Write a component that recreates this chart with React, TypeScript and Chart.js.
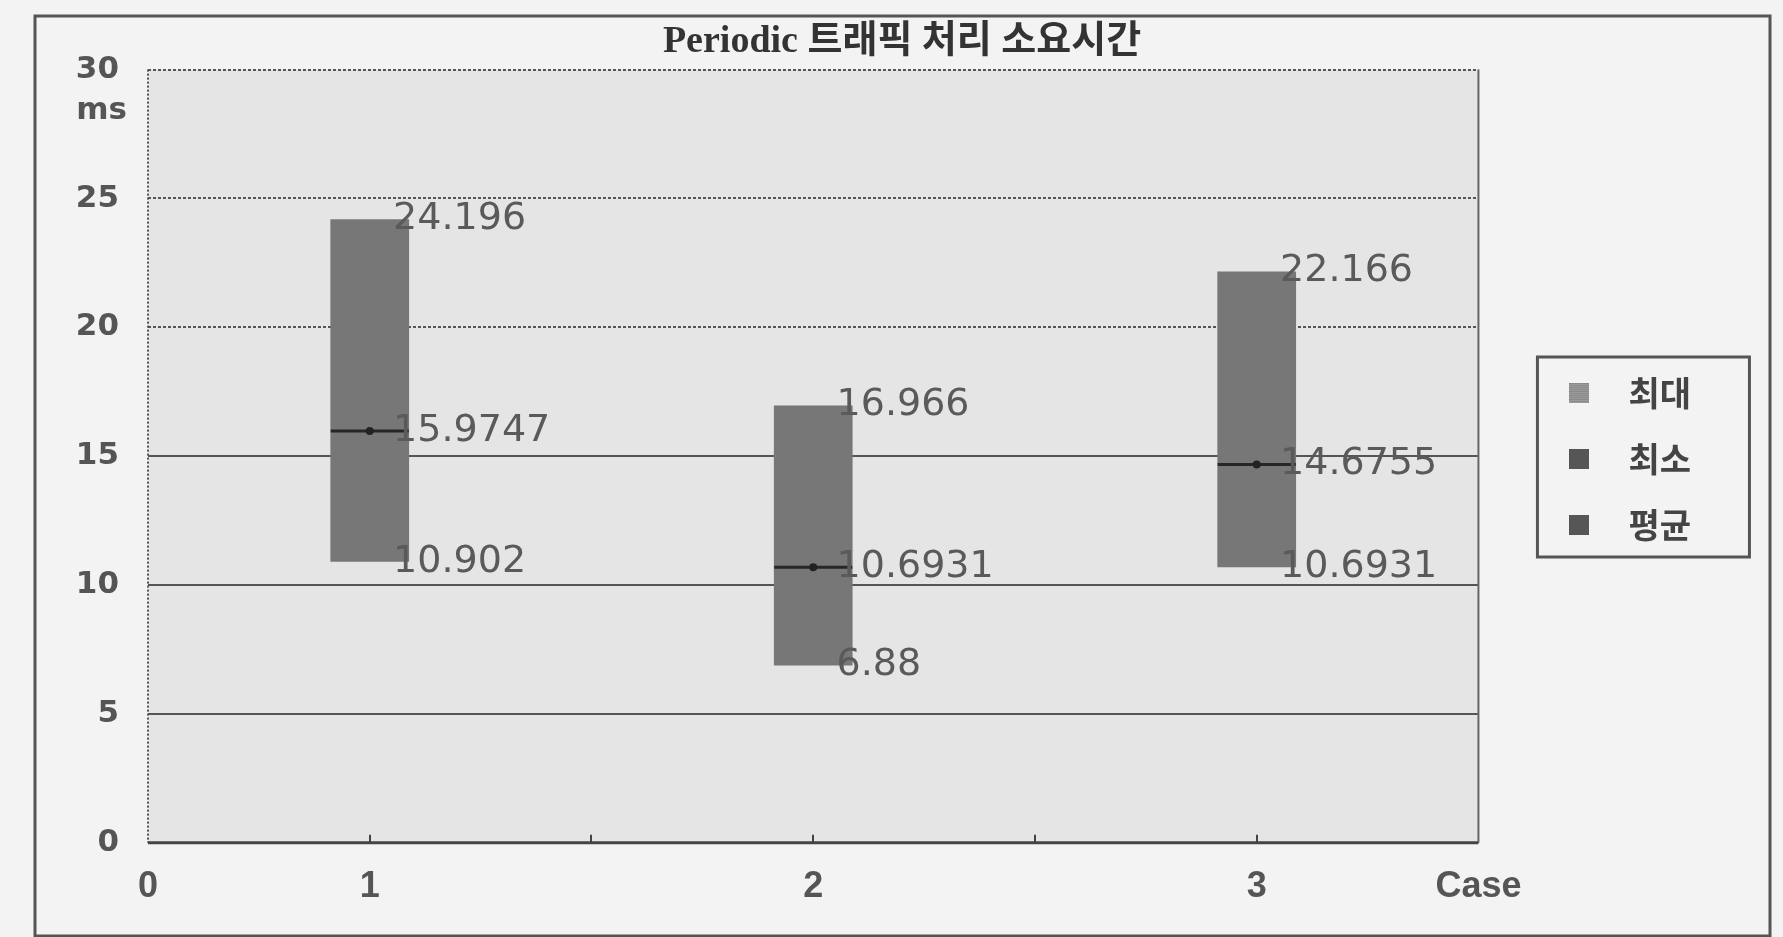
import React, { useEffect, useRef } from 'react';
import { Chart, registerables } from 'chart.js';

Chart.register(...registerables);

// ---- data ----
const CHART_TITLE = 'Periodic 트래픽 처리 소요시간';
const CASES = [1, 2, 3];
const MAX_MS = [24.196, 16.966, 22.166];
const MIN_MS = [10.902, 6.88, 10.6931];
const AVG_MS = [15.9747, 10.6931, 14.6755];
const LEGEND_LABELS = ['최대', '최소', '평균'];
const X_TICK_LABELS = ['0', '1', '', '2', '', '3', 'Case'];
const Y_UNIT = 'ms';
const Y_RANGE = [0, 30];
const Y_STEP = 5;
const X_RANGE = [0.5, 3.5];
const X_STEP = 0.5;

const W = 1783;
const H = 937;
const LEGEND_FONT = 34;

function swatch(color: string, dots?: string) {
  const c = document.createElement('canvas');
  c.width = 20;
  c.height = 20;
  const g = c.getContext('2d')!;
  g.fillStyle = color;
  g.fillRect(0, 0, 20, 20);
  if (dots) {
    g.fillStyle = dots;
    for (let y = 0; y < 20; y += 2) for (let x = (y / 2) % 2; x < 20; x += 2) g.fillRect(x, y, 1, 1);
  }
  return c;
}

const decor = {
  id: 'decor',
  beforeDraw(chart: any) {
    const { ctx, chartArea: a, width, height } = chart;
    ctx.save();
    ctx.fillStyle = '#f3f3f3';
    ctx.fillRect(0, 0, width, height);
    ctx.fillStyle = '#e5e5e5';
    ctx.fillRect(a.left, a.top, a.right - a.left, a.bottom - a.top);
    ctx.restore();
  },
  beforeDatasetsDraw(chart: any) {
    const { ctx, chartArea: a, scales } = chart;
    const y = scales.y;
    const x = scales.x;
    const line = (x1: number, y1: number, x2: number, y2: number) => {
      ctx.beginPath();
      ctx.moveTo(x1, y1);
      ctx.lineTo(x2, y2);
      ctx.stroke();
    };
    ctx.save();
    ctx.strokeStyle = '#555';
    ctx.lineWidth = 2;
    y.ticks.forEach((t: any) => {
      if (t.value === Y_RANGE[0]) return;
      const py = Math.round(y.getPixelForValue(t.value));
      ctx.setLineDash(t.value >= 20 ? [3, 2] : []);
      line(a.left, py, a.right, py);
    });
    ctx.setLineDash([2, 2]);
    line(a.left, a.top, a.left, a.bottom);
    ctx.setLineDash([]);
    ctx.strokeStyle = '#666';
    line(a.right, a.top, a.right, a.bottom);
    ctx.strokeStyle = '#444';
    ctx.lineWidth = 3;
    line(a.left, a.bottom, a.right, a.bottom);
    ctx.lineWidth = 2;
    x.ticks.forEach((t: any) => {
      if (t.value <= X_RANGE[0] || t.value >= X_RANGE[1]) return;
      const px = Math.round(x.getPixelForValue(t.value));
      line(px, a.bottom, px, a.bottom - 8);
    });
    ctx.restore();
  },
  afterDatasetsDraw(chart: any) {
    const { ctx, scales } = chart;
    const bars = chart.getDatasetMeta(0).data;
    const series = [MAX_MS, MIN_MS, AVG_MS];
    ctx.save();
    ctx.fillStyle = '#5a5a5a';
    ctx.font = '38px "DejaVu Sans"';
    ctx.textAlign = 'left';
    ctx.textBaseline = 'middle';
    series.forEach((arr) => {
      arr.forEach((v, i) => {
        const b = bars[i];
        if (!b) return;
        const right = b.x + b.width / 2;
        ctx.fillText(String(v), right - 16, scales.y.getPixelForValue(v));
      });
    });
    ctx.restore();
  },
  afterDraw(chart: any) {
    const { ctx, scales, legend } = chart;
    ctx.save();
    // unit label under the top y tick
    const y = scales.y;
    ctx.fillStyle = '#555';
    ctx.font = 'bold 31px "DejaVu Sans"';
    ctx.textAlign = 'right';
    ctx.textBaseline = 'middle';
    ctx.fillText(Y_UNIT, y.right - 29 + 8, y.getPixelForValue(Y_RANGE[1]) + 41);
    // legend frame
    const hb = legend && legend.legendHitBoxes;
    if (hb && hb.length) {
      const first = hb[0];
      const last = hb[hb.length - 1];
      const left = first.left - 10;
      const top = first.top + LEGEND_FONT / 2 - 36;
      const bottom = last.top + LEGEND_FONT / 2 + 32;
      ctx.strokeStyle = '#555';
      ctx.lineWidth = 3;
      ctx.strokeRect(left, top, 212, bottom - top);
    }
    // outer frame
    ctx.strokeStyle = '#555';
    ctx.lineWidth = 3;
    ctx.strokeRect(35, 16, 1735, 920);
    ctx.restore();
  },
};

export default function App() {
  const ref = useRef<HTMLCanvasElement>(null);

  useEffect(() => {
    const legendSwatches = [swatch('#9a9a9a', '#7a7a7a'), swatch('#565656'), swatch('#565656')];
    const legendFills = ['#9a9a9a', '#565656', '#565656'];

    const chart = new Chart(ref.current!, {
      type: 'bar',
      data: {
        datasets: [
          {
            type: 'bar',
            label: '범위',
            data: CASES.map((c, i) => ({ x: c, y: [MIN_MS[i], MAX_MS[i]] })) as any,
            backgroundColor: '#777777',
            borderWidth: 0,
            barPercentage: 0.355,
            categoryPercentage: 1,
            order: 3,
          },
          {
            type: 'scatter',
            label: LEGEND_LABELS[0],
            data: CASES.map((c, i) => ({ x: c, y: MAX_MS[i] })),
            pointRadius: 0,
            pointHoverRadius: 0,
            backgroundColor: legendFills[0],
            order: 2,
          },
          {
            type: 'scatter',
            label: LEGEND_LABELS[1],
            data: CASES.map((c, i) => ({ x: c, y: MIN_MS[i] })),
            pointRadius: 0,
            pointHoverRadius: 0,
            backgroundColor: legendFills[1],
            order: 2,
          },
          {
            type: 'scatter',
            label: LEGEND_LABELS[2],
            data: CASES.map((c, i) => ({ x: c, y: AVG_MS[i] })),
            pointStyle: 'line',
            pointRadius: 39,
            pointHoverRadius: 39,
            borderColor: '#262626',
            borderWidth: 3,
            backgroundColor: legendFills[2],
            order: 1,
          },
          {
            type: 'scatter',
            label: '평균점',
            data: CASES.map((c, i) => ({ x: c, y: AVG_MS[i] })),
            pointStyle: 'circle',
            pointRadius: 4,
            pointHoverRadius: 4,
            borderWidth: 0,
            backgroundColor: '#222',
            order: 0,
          },
        ],
      },
      options: {
        responsive: false,
        animation: false,
        devicePixelRatio: 1,
        events: [],
        layout: { padding: { left: 60, right: 39, top: 12, bottom: 5 } },
        scales: {
          x: {
            type: 'linear',
            min: X_RANGE[0],
            max: X_RANGE[1],
            offset: false,
            grid: { display: false, drawTicks: false, offset: false },
            border: { display: false },
            ticks: {
              stepSize: X_STEP,
              autoSkip: false,
              maxRotation: 0,
              padding: 23,
              color: '#555',
              font: { family: '"Liberation Sans"', size: 36, weight: 'bold' },
              callback: (_v: any, i: number) => X_TICK_LABELS[i] ?? '',
            },
          },
          y: {
            type: 'linear',
            min: Y_RANGE[0],
            max: Y_RANGE[1],
            grid: { display: false, drawTicks: false },
            border: { display: false },
            ticks: {
              stepSize: Y_STEP,
              padding: 29,
              color: '#555',
              font: { family: '"DejaVu Sans"', size: 31, weight: 'bold' },
            },
            afterFit: (s: any) => {
              s.width = 88;
            },
          },
          yR: {
            type: 'linear',
            axis: 'y',
            position: 'right',
            display: true,
            weight: 0,
            grid: { display: false, drawTicks: false },
            border: { display: false },
            ticks: { display: false },
            afterFit: (s: any) => {
              s.width = 37;
            },
          },
          yR2: {
            type: 'linear',
            axis: 'y',
            position: 'right',
            display: true,
            weight: 2000,
            grid: { display: false, drawTicks: false },
            border: { display: false },
            ticks: { display: false },
            afterFit: (s: any) => {
              s.width = 43;
            },
          },
        } as any,
        plugins: {
          title: {
            display: true,
            text: CHART_TITLE,
            color: '#333',
            font: { family: '"Liberation Serif", "Noto Sans CJK KR"', size: 38, weight: 'bold' },
            padding: { top: 7, bottom: 5 },
          },
          legend: {
            display: true,
            position: 'right',
            align: 'start',
            title: { display: true, text: '', font: { size: 10 }, padding: { top: 320, bottom: 0 } },
            labels: {
              usePointStyle: true,
              pointStyleWidth: 64,
              padding: 32,
              color: '#444',
              font: { family: '"Noto Sans CJK KR"', size: LEGEND_FONT, weight: 'bold' },
              generateLabels: () =>
                LEGEND_LABELS.map((text, i) => ({
                  text,
                  pointStyle: legendSwatches[i] as any,
                  fillStyle: legendFills[i],
                  strokeStyle: legendFills[i],
                  lineWidth: 0,
                  hidden: false,
                  datasetIndex: i + 1,
                  fontColor: '#444',
                })),
            },
          },
          tooltip: { enabled: false },
        },
      } as any,
      plugins: [decor],
    });
    return () => chart.destroy();
  }, []);

  return (
    <div style={{ position: 'fixed', left: 0, top: 0, width: W, height: H, background: '#f3f3f3' }}>
      <canvas ref={ref} width={W} height={H} style={{ display: 'block' }} />
    </div>
  );
}
